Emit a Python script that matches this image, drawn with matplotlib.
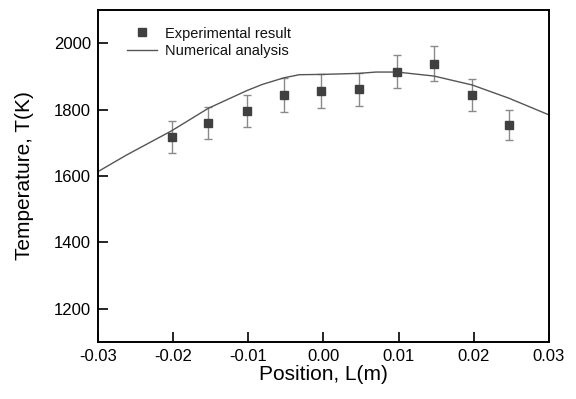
import numpy as np
import matplotlib
matplotlib.use("Agg")
import matplotlib.pyplot as plt

plt.rcParams['font.family'] = ['Liberation Sans', 'DejaVu Sans']

# Experimental points (position in m, temperature in K, error)
exp_pos = [-0.0202, -0.0153, -0.0102, -0.0052, -0.0003, 0.0047, 0.0098, 0.0147, 0.0198, 0.0247]
exp_temp = [1717, 1759, 1796, 1844, 1856, 1861, 1914, 1938, 1844, 1754]
exp_err = [48, 48, 48, 50, 50, 50, 50, 52, 48, 46]

# Numerical analysis curve
num_pos = [-0.030, -0.0262, -0.0202, -0.0153, -0.0102, -0.0081, -0.0052, -0.0032,
           0.000, 0.0047, 0.007, 0.0098, 0.0147, 0.0198, 0.0247, 0.030]
num_temp = [1613, 1663, 1736, 1804, 1857, 1876, 1896, 1905,
            1906, 1909, 1913, 1913, 1901, 1874, 1834, 1784]

fig = plt.figure(figsize=(5.76, 3.99), dpi=100)
ax = fig.add_axes([0.170, 0.143, 0.783, 0.832])

# error bars, then the squares on top
ax.errorbar(exp_pos, exp_temp, yerr=exp_err, fmt='none',
            ecolor='#8a8a8a', elinewidth=1, capsize=3, capthick=1, zorder=2)
ax.plot(exp_pos, exp_temp, 's', color='#404040', markersize=5.5,
        label='Experimental result', zorder=3)
ax.plot(num_pos, num_temp, color='#555555', lw=1, label='Numerical analysis')

ax.set_xlim(-0.03, 0.03)
ax.set_ylim(1100, 2100)
ax.set_xticks([-0.03, -0.02, -0.01, 0.00, 0.01, 0.02, 0.03])
ax.set_xticklabels(['-0.03', '-0.02', '-0.01', '0.00', '0.01', '0.02', '0.03'])
ax.set_yticks([1200, 1400, 1600, 1800, 2000])
ax.tick_params(axis='both', which='major', direction='in', length=7, width=1.2,
               color='black', labelsize=12, pad=5,
               bottom=True, left=True, top=False, right=False)
for s in ax.spines.values():
    s.set_linewidth(1.4)

ax.set_xlabel('Position, L(m)', fontsize=15, labelpad=1)
ax.set_ylabel('Temperature, T(K)', fontsize=15, labelpad=14)

leg = ax.legend(loc='upper left', frameon=False, fontsize=10.5,
                handlelength=2.1, handletextpad=0.5, borderpad=0, borderaxespad=0,
                labelspacing=0.23, bbox_to_anchor=(0.064, 0.95))
for t in leg.get_texts():
    t.set_color('#111111')

fig.savefig('out.png', dpi=100)
